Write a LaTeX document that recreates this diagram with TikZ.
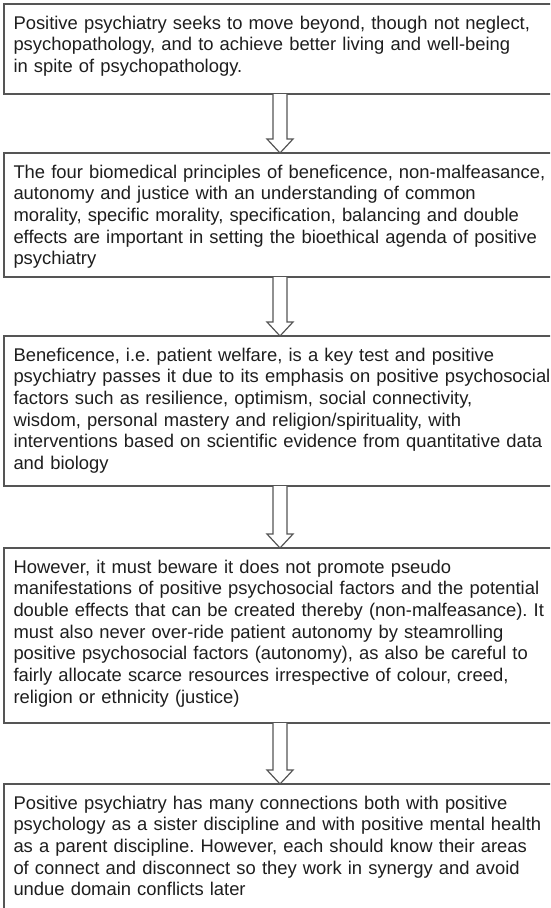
\documentclass[tikz,border=0pt]{standalone}
\usepackage{fontspec}
\setmainfont{Liberation Sans}
\usetikzlibrary{calc}
\definecolor{linec}{RGB}{85,85,85}
\definecolor{textc}{RGB}{30,30,30}
\newcommand\boxlines[1]{\begin{tabular}[t]{@{}l@{}}#1\end{tabular}}
\frenchspacing
\begin{document}
\begin{tikzpicture}[x=1pt,y=1pt,
  stepbox/.style={draw=linec, line width=1.2pt, fill=white, outer sep=0pt,
    inner xsep=9.5pt, inner ysep=11pt, text width=545pt, align=left,
    text height=14pt, anchor=north west, text=textc,
    font=\fontsize{18.4pt}{21.7pt}\selectfont},
  blockarrow/.style={draw=linec, line width=1.2pt, fill=white, line join=miter}]
\useasboundingbox (0,0) rectangle (550,-908);
\clip (0,0) rectangle (550,-908);

\node[stepbox, text depth=54pt] (b1) at (4,-4) {\boxlines{%
Positive psychiatry seeks to move beyond, though not neglect,\\
psychopathology, and to achieve better living and well-being\\
in spite of psychopathology.}};

\node[stepbox, text depth=88pt] (b2) at (4,-153) {\boxlines{%
The four biomedical principles of beneficence, non-malfeasance,\\
autonomy and justice with an understanding of common\\
morality, specific morality, specification, balancing and double\\
effects are important in setting the bioethical agenda of positive\\
psychiatry}};

\node[stepbox, text depth=114pt] (b3) at (4,-336) {\boxlines{%
Beneficence, i.e. patient welfare, is a key test and positive\\
psychiatry passes it due to its emphasis on positive psychosocial\\
factors such as resilience, optimism, social connectivity,\\
wisdom, personal mastery and religion/spirituality, with\\
interventions based on scientific evidence from quantitative data\\
and biology}};

\node[stepbox, text depth=139pt] (b4) at (4,-548) {\boxlines{%
However, it must beware it does not promote pseudo\\
manifestations of positive psychosocial factors and the potential\\
double effects that can be created thereby (non-malfeasance). It\\
must also never over-ride patient autonomy by steamrolling\\
positive psychosocial factors (autonomy), as also be careful to\\
fairly allocate scarce resources irrespective of colour, creed,\\
religion or ethnicity (justice)}};

\node[stepbox, text depth=110pt] (b5) at (4,-784) {\boxlines{%
Positive psychiatry has many connections both with positive\\
psychology as a sister discipline and with positive mental health\\
as a parent discipline. However, each should know their areas\\
of connect and disconnect so they work in synergy and avoid\\
undue domain conflicts later}};

\foreach \a/\b in {b1/b2, b2/b3, b3/b4, b4/b5}{
  \draw[blockarrow] let \p1=($(\a.south west)+(276pt,0pt)$), \p2=(\b.north) in
    (\x1-7pt,\y1) -- (\x1-7pt,\y2+14pt) -- (\x1-13pt,\y2+14pt) -- (\x1,\y2)
    -- (\x1+13pt,\y2+14pt) -- (\x1+7pt,\y2+14pt) -- (\x1+7pt,\y1);
}
\end{tikzpicture}
\end{document}
